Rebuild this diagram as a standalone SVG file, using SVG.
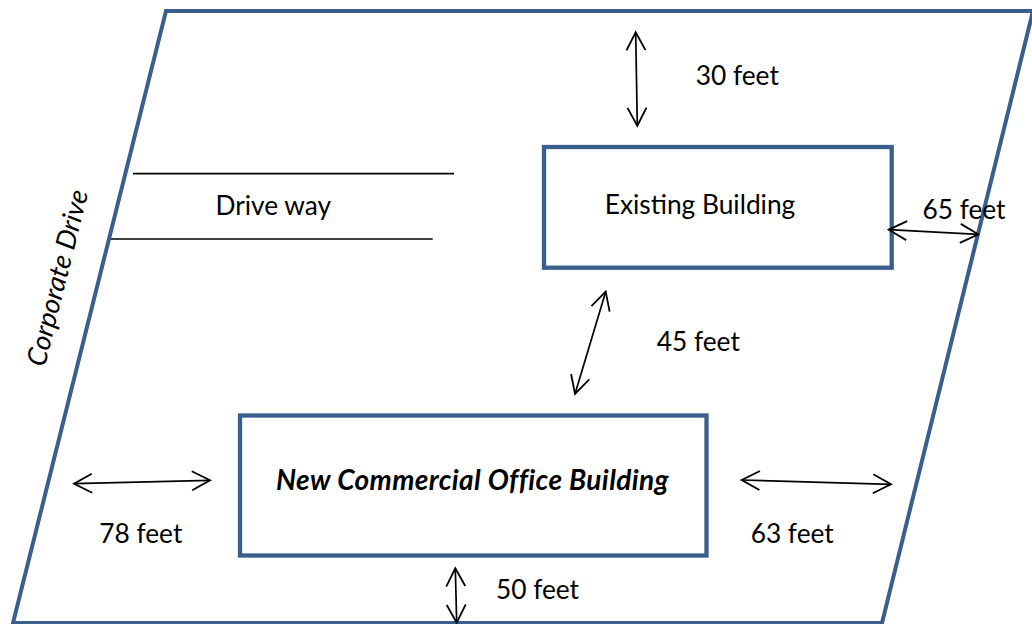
<svg xmlns="http://www.w3.org/2000/svg" width="1032" height="624" viewBox="0 0 1032 624">
<defs>
<style>
.lot{fill:none;stroke:#3A5F8D;stroke-width:4;stroke-linejoin:miter}
.bldg{fill:#fff;stroke:#3A5F8D;stroke-width:4.3}
.drv{stroke:#000;stroke-width:1.7;fill:none}
.dim{stroke:#000;stroke-width:1.7;fill:none;marker-start:url(#ah);marker-end:url(#ah)}
.t{font-family:Lato,"Open Sans","Liberation Sans",sans-serif;font-size:26.3px;fill:#000;text-anchor:middle}
.bi{font-weight:bold;font-style:italic;font-size:28px;letter-spacing:0.4px}
.it{font-style:italic;font-size:27.3px}
</style>
<marker id="ah" markerUnits="userSpaceOnUse" viewBox="-20 -11 22 22" refX="0" refY="0" markerWidth="22" markerHeight="22" orient="auto-start-reverse">
<path d="M-18,-9.5 L0,0 L-18,9.5" fill="none" stroke="#000" stroke-width="1.8"/>
</marker>
</defs>
<rect width="1032" height="624" fill="#fff"/>
<g id="lot">
<polygon class="lot" points="166,11 1033,11 882,623 13,623"/>
<text class="t it" transform="translate(66.5,280) rotate(-76)">Corporate Drive</text>
</g>
<g id="driveway">
<line class="drv" x1="133" y1="173.7" x2="454" y2="173.7"/>
<line class="drv" x1="111" y1="239" x2="432.7" y2="239"/>
<text class="t" x="273.3" y="215">Drive way</text>
</g>
<g id="existing-building">
<rect class="bldg" x="544" y="147" width="347.7" height="120.7"/>
<text class="t" x="700" y="213.5">Existing Building</text>
</g>
<g id="new-building">
<rect class="bldg" x="240" y="415.5" width="466.5" height="140"/>
<text class="t bi" x="472.5" y="490">New Commercial Office Building</text>
</g>
<g id="connectors">
<line class="dim" x1="635.7" y1="32.3" x2="637.3" y2="125.7"/>
<line class="dim" x1="888.7" y1="229.7" x2="978.3" y2="234.3"/>
<line class="dim" x1="605.7" y1="291.7" x2="575" y2="394"/>
<line class="dim" x1="74" y1="483.7" x2="210" y2="480.3"/>
<line class="dim" x1="741.7" y1="480" x2="891" y2="484.3"/>
<line class="dim" x1="455.3" y1="568.3" x2="456.7" y2="622.7"/>
</g>
<g id="labels">
<text class="t" x="737.3" y="85">30 feet</text>
<text class="t" x="964" y="218.5">65 feet</text>
<text class="t" x="698.3" y="350.7">45 feet</text>
<text class="t" x="140.8" y="542.7">78 feet</text>
<text class="t" x="792.2" y="542.7">63 feet</text>
<text class="t" x="537.5" y="599.3">50 feet</text>
</g>
</svg>
